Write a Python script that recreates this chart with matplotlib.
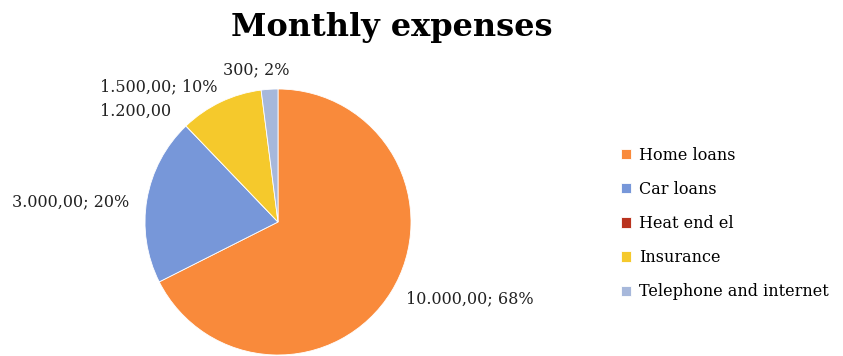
import numpy as np
import matplotlib
matplotlib.use("Agg")
import matplotlib.pyplot as plt

# expense data (heat entry is stored as text in the source sheet, so its slice is empty)
categories = ["Home loans", "Car loans", "Heat end el", "Insurance", "Telephone and internet"]
values = [10000, 3000, 0, 1500, 300]
value_labels = ["10.000,00", "3.000,00", "1.200,00", "1.500,00", "300"]
colors = ["#F98A3B", "#7797D9", "#B9331E", "#F5C92C", "#A7B8DB"]

# label placement: pixel offset from the wedge's outer midpoint, and alignment
label_offset = [(15, -7), (-18, -2), (-50, 15), (-62, 15), (-13, 19)]
label_ha = ["left", "right", "center", "center", "center"]

fig = plt.figure(figsize=(8.43, 3.56), dpi=100)
ax = fig.add_axes([0, 0, 556 / 843, 316 / 356])

wedges, _ = ax.pie(values, colors=colors, startangle=90, counterclock=False,
                   radius=1, wedgeprops=dict(linewidth=0.6, edgecolor="white"))
ax.set_xlim(-278 / 133, 278 / 133)
ax.set_ylim(-134 / 133, 182 / 133)
ax.set_aspect("auto")

total = sum(values)
for w, v, lab, off, ha in zip(wedges, values, value_labels, label_offset, label_ha):
    mid = np.deg2rad((w.theta1 + w.theta2) / 2)
    txt = lab if v == 0 else "%s; %d%%" % (lab, round(100 * v / total))
    ax.annotate(txt, (np.cos(mid), np.sin(mid)), xytext=off,
                textcoords="offset pixels", ha=ha, va="center",
                fontsize=11.5, family="DejaVu Serif", color="#222222")

fig.text(0.465, 0.924, "Monthly expenses", ha="center", va="center",
         fontsize=23, fontweight="bold", family="DejaVu Serif")

fig.legend(wedges, categories, loc="center left", bbox_to_anchor=(0.737, 0.372),
           frameon=False, prop=dict(family="DejaVu Serif", size=11.5),
           handlelength=0.6, handleheight=0.6, handletextpad=0.5,
           labelspacing=1.07, borderpad=0, borderaxespad=0)

fig.savefig("out.png", dpi=100)
